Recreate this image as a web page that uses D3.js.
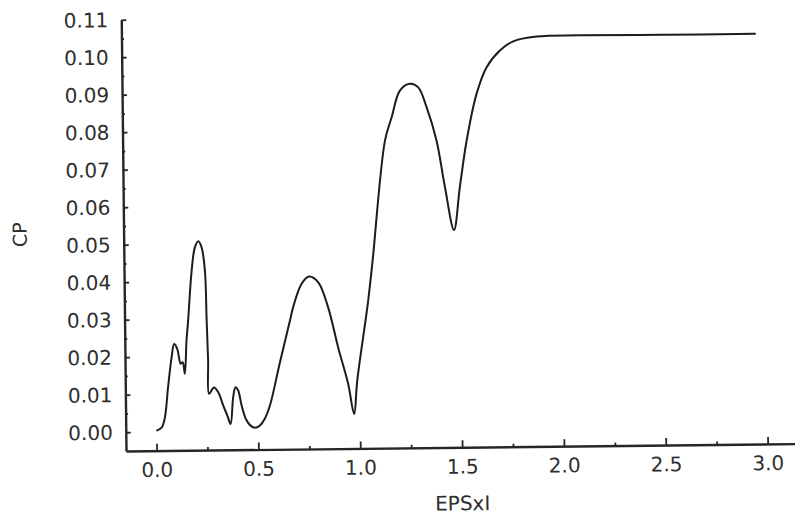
<!DOCTYPE html>
<html>
<head>
<meta charset="utf-8">
<script src="https://cdn.jsdelivr.net/npm/d3@7"></script>
<style>
  html, body { margin: 0; padding: 0; background: #fff; }
  svg { display: block; }
</style>
</head>
<body>
<svg id="chart" width="795" height="515"></svg>
<script>
// EPS·l values (x) and power coefficient CP (y) along the curve
const epsValues = [
  0.004, 0.026, 0.043, 0.060, 0.079, 0.092, 0.107, 0.123, 0.133, 0.143,
  0.153, 0.162, 0.182, 0.199, 0.216, 0.232, 0.247, 0.253, 0.258, 0.261,
  0.285, 0.306, 0.330, 0.349, 0.365, 0.379, 0.391, 0.404, 0.420, 0.440,
  0.463, 0.484, 0.509, 0.533, 0.559, 0.610, 0.662, 0.678, 0.721, 0.759,
  0.803, 0.850, 0.897, 0.944, 0.972, 0.989, 1.047, 1.071, 1.138, 1.172,
  1.214, 1.263, 1.304, 1.344, 1.391, 1.430, 1.472, 1.503, 1.539, 1.590,
  1.641, 1.707, 1.773, 1.888, 2.100, 2.510, 2.960
];
const cpValues = [
  0.0004, 0.0011, 0.0039, 0.0119, 0.0199, 0.0234, 0.0221, 0.0181, 0.0185, 0.0154,
  0.0243, 0.0296, 0.0429, 0.0491, 0.0507, 0.0491, 0.0429, 0.0295, 0.0189, 0.0100,
  0.0117, 0.0104, 0.0068, 0.0042, 0.0019, 0.0090, 0.0117, 0.0108, 0.0068, 0.0032,
  0.0014, 0.0008, 0.0014, 0.0032, 0.0067, 0.0181, 0.0293, 0.0328, 0.0391, 0.0410,
  0.0394, 0.0327, 0.0220, 0.0123, 0.0042, 0.0131, 0.0344, 0.0451, 0.0770, 0.0832,
  0.0903, 0.0921, 0.0911, 0.0858, 0.0769, 0.0644, 0.0530, 0.0644, 0.0768, 0.0892,
  0.0963, 0.1007, 0.1031, 0.1043, 0.1045, 0.1044, 0.1044
];

// Axis ticks and their labels
const xTicks = [0, 0.5, 1.0, 1.5, 2.0, 2.5, 3.0];
const xTickLabels = ["0.0", "0.5", "1.0", "1.5", "2.0", "2.5", "3.0"];
const xMinorTicks = [0.25, 0.75, 1.25, 1.75, 2.25, 2.75];
const yTicks = [0, 0.01, 0.02, 0.03, 0.04, 0.05, 0.06, 0.07, 0.08, 0.09, 0.10, 0.11];
const yTickLabels = ["0.00", "0.01", "0.02", "0.03", "0.04", "0.05", "0.06",
                     "0.07", "0.08", "0.09", "0.10", "0.11"];
const yMinorTicks = [0.005, 0.015, 0.025, 0.035, 0.045, 0.055, 0.065, 0.075, 0.085, 0.095, 0.105];

const xLabel = "EPSxI";
const yLabel = "CP";

const svg = d3.select("#chart");
const FONT = "'DejaVu Sans', 'Liberation Sans', sans-serif";
const INK = "#262626";

const left = 126, bottom = 451;
const x = d3.scaleLinear().domain([-0.15, 3.16]).range([left, left + 203.7 * 3.31]);
const y = d3.scaleLinear().domain([-0.005, 0.11]).range([bottom, 19.75]);

// whole plot sits slightly rotated on the page
const g = svg.append("g")
  .attr("transform", `rotate(-0.63, ${left}, ${bottom})`);

// X axis: major ticks pointing into the plot
const xAxis = d3.axisBottom(x)
  .tickValues(xTicks)
  .tickFormat((d, i) => xTickLabels[i])
  .tickSizeInner(-7)
  .tickSizeOuter(0)
  .tickPadding(12);
const gx = g.append("g").attr("transform", `translate(0,${bottom})`).call(xAxis);

g.append("g").attr("transform", `translate(0,${bottom})`)
  .call(d3.axisBottom(x).tickValues(xMinorTicks).tickFormat("").tickSizeInner(-3).tickSizeOuter(0))
  .select(".domain").remove();

// Y axis
const yAxis = d3.axisLeft(y)
  .tickValues(yTicks)
  .tickFormat((d, i) => yTickLabels[i])
  .tickSizeInner(-5)
  .tickSizeOuter(0)
  .tickPadding(13);
const gy = g.append("g").attr("transform", `translate(${left},0)`).call(yAxis);

g.append("g").attr("transform", `translate(${left},0)`)
  .call(d3.axisLeft(y).tickValues(yMinorTicks).tickFormat("").tickSizeInner(-2.5).tickSizeOuter(0))
  .select(".domain").remove();

g.selectAll(".domain").attr("stroke", INK).attr("stroke-width", 2.4);
g.selectAll(".tick line").attr("stroke", INK).attr("stroke-width", 1.8);
g.selectAll(".tick text")
  .attr("font-family", FONT)
  .attr("font-size", 20)
  .attr("fill", "#2e2e2e");
gy.selectAll(".tick text").attr("dy", "0.34em");

// Axis titles
g.append("text")
  .attr("x", x(1.5))
  .attr("y", bottom + 63)
  .attr("text-anchor", "middle")
  .attr("font-family", FONT)
  .attr("font-size", 20)
  .attr("fill", "#2e2e2e")
  .text(xLabel);

g.append("text")
  .attr("transform", `translate(29, ${y(0.053)}) rotate(-90)`)
  .attr("text-anchor", "middle")
  .attr("font-family", FONT)
  .attr("font-size", 19)
  .attr("fill", "#2e2e2e")
  .text(yLabel);

// CP curve
const points = epsValues.map((e, i) => [e, cpValues[i]]);
const line = d3.line()
  .x(d => x(d[0]))
  .y(d => y(d[1]))
  .curve(d3.curveCatmullRom.alpha(0.5));

g.append("path")
  .datum(points)
  .attr("fill", "none")
  .attr("stroke", "#1c1c1c")
  .attr("stroke-width", 2)
  .attr("stroke-linejoin", "round")
  .attr("stroke-linecap", "round")
  .attr("d", line);
</script>
</body>
</html>
